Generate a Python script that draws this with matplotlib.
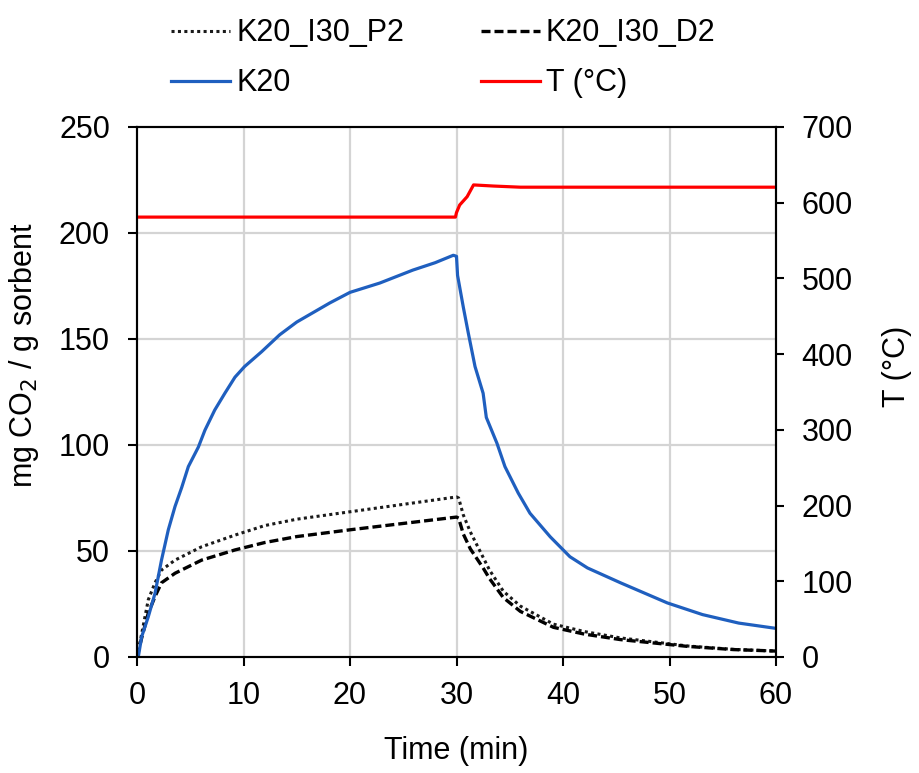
import matplotlib
matplotlib.use("Agg")
import matplotlib.pyplot as plt

plt.rcParams['font.family'] = ['Liberation Sans', 'DejaVu Sans']

# K20 (blue)
t_k20 = [0, 0.12, 0.44, 1.06, 1.69, 2.3, 2.94, 3.57, 4.2, 4.82, 5.76, 6.38, 7.3, 8.26, 9.2,
         10.1, 11.7, 13.4, 15, 18.1, 20, 22.8, 25.9, 28, 29.7, 30.0, 30.1, 30.64, 31.1,
         31.74, 32.5, 32.8, 33.8, 34.55, 35.8, 36.9, 38.8, 40.65, 42.3, 45.4, 49.8, 53.1,
         56.5, 60]
v_k20 = [0, 0, 9.6, 19, 30, 45.7, 60, 71, 80, 89.8, 99, 107, 116.5, 124.5, 132,
         137, 144, 152, 158, 167, 172, 176.4, 182.5, 186, 189.5, 189, 180, 165, 153,
         137, 124.4, 113, 100.8, 89.8, 77.3, 67.8, 56.7, 47.3, 42, 35, 25.5, 20,
         16, 13.5]

# K20_I30_P2 (dotted)
t_p2 = [0, 0.44, 1.06, 1.69, 2.3, 3.57, 6.07, 9.2, 12, 15, 20, 25, 30, 30.2, 30.64, 31.3,
        31.9, 33.1, 34.4, 36, 39.1, 42, 45.4, 51.7, 56, 60]
v_p2 = [0, 11, 27, 35, 41, 45.7, 52, 57.5, 62, 65, 68.5, 72, 75.5, 75, 67, 59,
        53, 41, 31, 24, 15.5, 12, 9, 5.2, 3.6, 2.8]

# K20_I30_D2 (dashed)
t_d2 = [0, 0.44, 1.06, 1.69, 2.3, 3.57, 6.07, 9.2, 12, 15, 20, 25, 30, 30.2, 30.64, 31.3,
        32.5, 33.1, 34.4, 36, 39.1, 42, 45.4, 51.7, 56, 60]
v_d2 = [0, 9, 20.7, 28.5, 35, 39.5, 45.7, 50.5, 54, 56.8, 60, 63, 66, 65.5, 58, 51,
        42, 37, 28, 21.5, 14, 10.8, 8.2, 5, 3.5, 2.8]

# Temperature (red)
t_T = [0, 29.9, 30.0, 30.3, 31.0, 31.6, 33.5, 36, 60]
v_T = [581, 581, 587, 597, 608, 623.5, 622, 620.5, 620.5]

fig = plt.figure(figsize=(9.19, 7.73), dpi=100)
W, H = 919, 773
L, R, T, B = 137, 776, 127, 657
ax = fig.add_axes([L / W, 1 - B / H, (R - L) / W, (B - T) / H])
ax2 = ax.twinx()

grid_c = '#d4d4d4'
for x in [10, 20, 30, 40, 50]:
    ax.axvline(x, color=grid_c, lw=1.6, zorder=0)
for y in [50, 100, 150, 200]:
    ax.axhline(y, color=grid_c, lw=1.6, zorder=0)

l1, = ax.plot(t_p2, v_p2, color='#1a1a1a', lw=2.2, ls=(0, (1, 1.1)), label='K20_I30_P2')
l2, = ax.plot(t_d2, v_d2, color='black', lw=2.4, ls=(0, (2.7, 1.2)), label='K20_I30_D2')
l3, = ax.plot(t_k20, v_k20, color='#1f5fbf', lw=2.3, label='K20')
l4, = ax2.plot(t_T, v_T, color='#ff0000', lw=2.3, label='T (°C)')

ax.set_xlim(0, 60)
ax.set_ylim(0, 250)
ax2.set_ylim(0, 700)
ax.set_xticks([0, 10, 20, 30, 40, 50, 60])
ax.set_yticks([0, 50, 100, 150, 200, 250])
ax2.set_yticks([0, 100, 200, 300, 400, 500, 600, 700])

fs = 22
ax.tick_params(axis='x', labelsize=fs, direction='out', length=6.5, width=1.5, pad=11)
ax.tick_params(axis='y', labelsize=fs, direction='out', length=6.5, width=1.5, pad=13)
ax2.tick_params(axis='y', labelsize=fs, direction='out', length=5.5, width=1.5, pad=13)
for a in (ax, ax2):
    for s in a.spines.values():
        s.set_linewidth(1.5)

ax.set_xlabel('Time (min)', fontsize=fs)
ax.xaxis.set_label_coords(0.5, -(751 - B) / (B - T), transform=ax.transAxes)
ax.set_ylabel('mg CO$_2$ / g sorbent', fontsize=fs)
ax.yaxis.set_label_coords(-(L - 24) / (R - L), (B - 355) / (B - T), transform=ax.transAxes)
ax2.set_ylabel('T (°C)', fontsize=fs)
ax2.yaxis.set_label_coords((897 - L) / (R - L), (B - 366) / (B - T), transform=ax2.transAxes)
ax.yaxis.label.set_va('center')
ax2.yaxis.label.set_va('center')
ax.xaxis.label.set_va('center')

handles = [l1, l3, l2, l4]
fig.legend(handles=handles, labels=[h.get_label() for h in handles], ncol=2, frameon=False,
           fontsize=fs, loc='upper center', bbox_to_anchor=(0.4826, 1.0), borderpad=0.1,
           handlelength=1.93, handletextpad=0.2, columnspacing=2.5, labelspacing=0.65)

fig.savefig('out.png', dpi=100)
